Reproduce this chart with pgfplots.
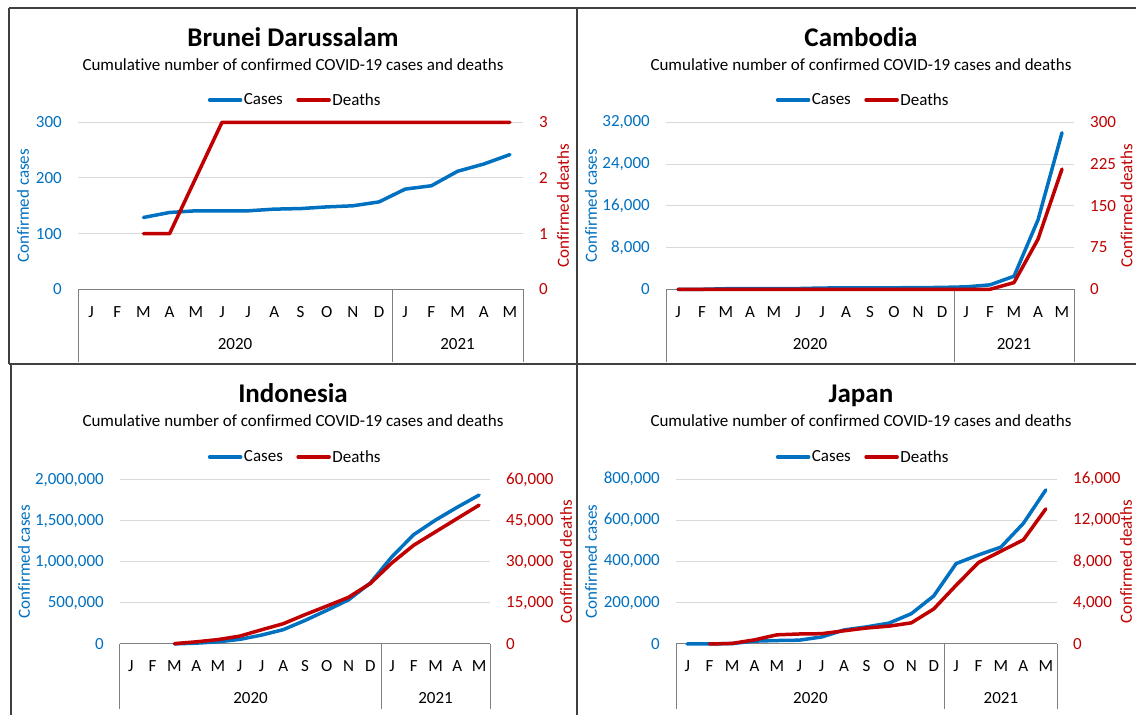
\documentclass[border=0pt]{standalone}
\usepackage{fontspec}
\setmainfont{Carlito}[Ligatures=NoCommon]
\usepackage{pgfplots}
\pgfplotsset{compat=1.18}
\definecolor{cblue}{HTML}{0070C0}
\definecolor{cred}{HTML}{C00000}
\definecolor{gridc}{HTML}{D9D9D9}
\definecolor{boxc}{HTML}{808080}
\definecolor{framec}{HTML}{404040}
\newcommand{\bodyfont}{\fontsize{17}{20}\selectfont}
\newcommand{\titlefont}{\fontsize{27}{32}\selectfont\bfseries}

\pgfplotsset{
  common/.style={
    scale only axis, clip=false,
    xmin=-0.5, xmax=16.5, ymin=0,
    major tick length=0pt,
    /pgf/number format/assume math mode=true,
    /pgf/number format/fixed,
    /pgf/number format/precision=0,
    /pgf/number format/1000 sep={,},
    scaled y ticks=false,
    tick label style={font=\bodyfont},
    label style={font=\bodyfont},
  },
  leftax/.style={common,
    axis x line*=bottom, x axis line style={draw=none},
    xtick={0,...,16},
    xticklabels={J,F,M,A,M,J,J,A,S,O,N,D,J,F,M,A,M},
    xticklabel style={anchor=base, inner sep=0pt, yshift=-28pt, text=black},
    axis y line*=left, y axis line style={draw=none},
    yticklabel style={anchor=east, inner sep=0pt, xshift=-16pt, text=cblue},
    ymajorgrids, grid style={draw=gridc, line width=1pt},
    legend style={draw=none, fill=none, anchor=center, legend columns=2, font=\bodyfont, inner sep=0pt,
       /tikz/every even column/.append style={column sep=12pt}, nodes={inner sep=1.5pt}},
    legend image code/.code={\draw[#1] (0pt,0pt) -- (31pt,0pt);},
  },
  rightax/.style={common,
    axis x line=none,
    axis y line*=right, y axis line style={draw=none},
    yticklabel style={anchor=west, inner sep=0pt, xshift=16pt, text=cred},
  },
  lylab/.style={every axis y label/.style={at={(axis description cs:#1,0.5)}, rotate=90, anchor=center, font=\bodyfont, text=cblue}},
  rylab/.style={every axis y label/.style={at={(axis description cs:#1,0.5)}, rotate=90, anchor=center, font=\bodyfont, text=cred}},
  cases/.style={cblue, line width=3.5pt, line join=round, line cap=round, mark=none},
  deaths/.style={cred, line width=3.5pt, line join=round, line cap=round, mark=none},
}

\newcommand{\catbox}[1]{%
  \draw[boxc, line width=1pt] (axis cs:-0.5,0) -- (axis cs:16.5,0);
  \draw[boxc, line width=1pt] (axis cs:-0.5,0) -- ([yshift=-#1]axis cs:-0.5,0);
  \draw[boxc, line width=1pt] (axis cs:11.5,0) -- ([yshift=-#1]axis cs:11.5,0);
  \draw[boxc, line width=1pt] (axis cs:16.5,0) -- ([yshift=-#1]axis cs:16.5,0);
  \node[anchor=base, font=\bodyfont, inner sep=0pt] at ([yshift=-60pt]axis cs:5.5,0) {2020};
  \node[anchor=base, font=\bodyfont, inner sep=0pt] at ([yshift=-60pt]axis cs:14,0) {2021};
}

\begin{document}
\begin{tikzpicture}[x=1pt,y=1pt]
\useasboundingbox (0,0) rectangle (1136,715);
% frames
\draw[framec, line width=1.3pt] (9,707) -- (1140,707);
\draw[framec, line width=1.3pt] (9,707) -- (9,351);
\draw[framec, line width=1.3pt] (9,351) -- (1140,351);
\draw[framec, line width=1.3pt] (11,351) -- (11,-5);
\draw[framec, line width=1.6pt] (577,707) -- (577,-5);

% titles
\node[font=\titlefont, anchor=base] at (293,668.3) {Brunei Darussalam};
\node[font=\bodyfont, anchor=base] at (293,644.3) {Cumulative number of confirmed COVID-19 cases and deaths};
\node[font=\titlefont, anchor=base] at (861,668.3) {Cambodia};
\node[font=\bodyfont, anchor=base] at (861,644.3) {Cumulative number of confirmed COVID-19 cases and deaths};
\node[font=\titlefont, anchor=base] at (293,312.7) {Indonesia};
\node[font=\bodyfont, anchor=base] at (293,288.3) {Cumulative number of confirmed COVID-19 cases and deaths};
\node[font=\titlefont, anchor=base] at (861,312.7) {Japan};
\node[font=\bodyfont, anchor=base] at (861,288.3) {Cumulative number of confirmed COVID-19 cases and deaths};

% ---------------- Brunei ----------------
\begin{axis}[leftax, at={(78pt,425.7pt)}, anchor=south west, width=445pt, height=167pt,
  ymax=300, ytick={0,100,200,300},
  ylabel={Confirmed cases}, lylab=-0.1236,
  legend style={at={(0.4876,1.1335)}}]
\catbox{73pt}
\addplot[cases] coordinates {(2,129)(3,138)(4,141)(5,141)(6,141)(7,144)(8,145)(9,148)(10,150)(11,157)(12,180)(13,186)(14,212)(15,225)(16,242)};
\addlegendentry{Cases}
\addlegendimage{deaths}
\addlegendentry{Deaths}
\end{axis}
\begin{axis}[rightax, at={(78pt,425.7pt)}, anchor=south west, width=445pt, height=167pt,
  ymax=3, ytick={0,1,2,3},
  ylabel={Confirmed deaths}, rylab=1.0899]
\addplot[deaths] coordinates {(2,1)(3,1)(4,2)(5,3)(6,3)(7,3)(8,3)(9,3)(10,3)(11,3)(12,3)(13,3)(14,3)(15,3)(16,3)};
\end{axis}

% ---------------- Cambodia ----------------
\begin{axis}[leftax, at={(666pt,425.7pt)}, anchor=south west, width=408pt, height=167pt,
  ymax=32000, ytick={0,8000,16000,24000,32000},
  ylabel={Confirmed cases}, lylab=-0.1838,
  legend style={at={(0.4828,1.1335)}}]
\catbox{73pt}
\addplot[cases] coordinates {(0,1)(1,1)(2,109)(3,122)(4,124)(5,141)(6,240)(7,274)(8,276)(9,290)(10,310)(11,362)(12,470)(13,850)(14,2500)(15,13300)(16,30000)};
\addlegendentry{Cases}
\addlegendimage{deaths}
\addlegendentry{Deaths}
\end{axis}
\begin{axis}[rightax, at={(666pt,425.7pt)}, anchor=south west, width=408pt, height=167pt,
  ymax=300, ytick={0,75,150,225,300},
  ylabel={Confirmed deaths}, rylab=1.1290]
\addplot[deaths] coordinates {(0,0)(1,0)(2,0)(3,0)(4,0)(5,0)(6,0)(7,0)(8,0)(9,0)(10,0)(11,0)(12,0)(13,0)(14,12)(15,90)(16,216)};
\end{axis}

% ---------------- Indonesia ----------------
\begin{axis}[leftax, at={(120pt,71pt)}, anchor=south west, width=370pt, height=164pt,
  ymax=2000000, ytick={0,500000,1000000,1500000,2000000},
  ylabel={Confirmed cases}, lylab=-0.2595,
  legend style={at={(0.473,1.140)}}]
\catbox{65pt}
\addplot[cases] coordinates {(2,1528)(3,10118)(4,26473)(5,56385)(6,108376)(7,174796)(8,287008)(9,410088)(10,538883)(11,743198)(12,1066313)(13,1334634)(14,1511712)(15,1668368)(16,1816041)};
\addlegendentry{Cases}
\addlegendimage{deaths}
\addlegendentry{Deaths}
\end{axis}
\begin{axis}[rightax, at={(120pt,71pt)}, anchor=south west, width=370pt, height=164pt,
  ymax=60000, ytick={0,15000,30000,45000,60000},
  ylabel={Confirmed deaths}, rylab=1.2054]
\addplot[deaths] coordinates {(2,136)(3,792)(4,1613)(5,2876)(6,5193)(7,7417)(8,10740)(9,13869)(10,17081)(11,22138)(12,29731)(13,36166)(14,41054)(15,45949)(16,50804)};
\end{axis}

% ---------------- Japan ----------------
\begin{axis}[leftax, at={(676pt,71pt)}, anchor=south west, width=381pt, height=165pt,
  ymax=800000, ytick={0,200000,400000,600000,800000},
  ylabel={Confirmed cases}, lylab=-0.2231,
  legend style={at={(0.4908,1.133)}}]
\catbox{65pt}
\addplot[cases] coordinates {(0,17)(1,239)(2,2000)(3,14000)(4,16800)(5,18500)(6,34000)(7,68000)(8,83000)(9,101000)(10,147000)(11,233000)(12,390000)(13,432000)(14,470000)(15,585000)(16,747000)};
\addlegendentry{Cases}
\addlegendimage{deaths}
\addlegendentry{Deaths}
\end{axis}
\begin{axis}[rightax, at={(676pt,71pt)}, anchor=south west, width=381pt, height=165pt,
  ymax=16000, ytick={0,4000,8000,12000,16000},
  ylabel={Confirmed deaths}, rylab=1.1811]
\addplot[deaths] coordinates {(1,1)(2,56)(3,400)(4,890)(5,970)(6,1000)(7,1280)(8,1550)(9,1730)(10,2050)(11,3400)(12,5700)(13,7900)(14,9000)(15,10100)(16,13100)};
\end{axis}
\end{tikzpicture}
\end{document}
